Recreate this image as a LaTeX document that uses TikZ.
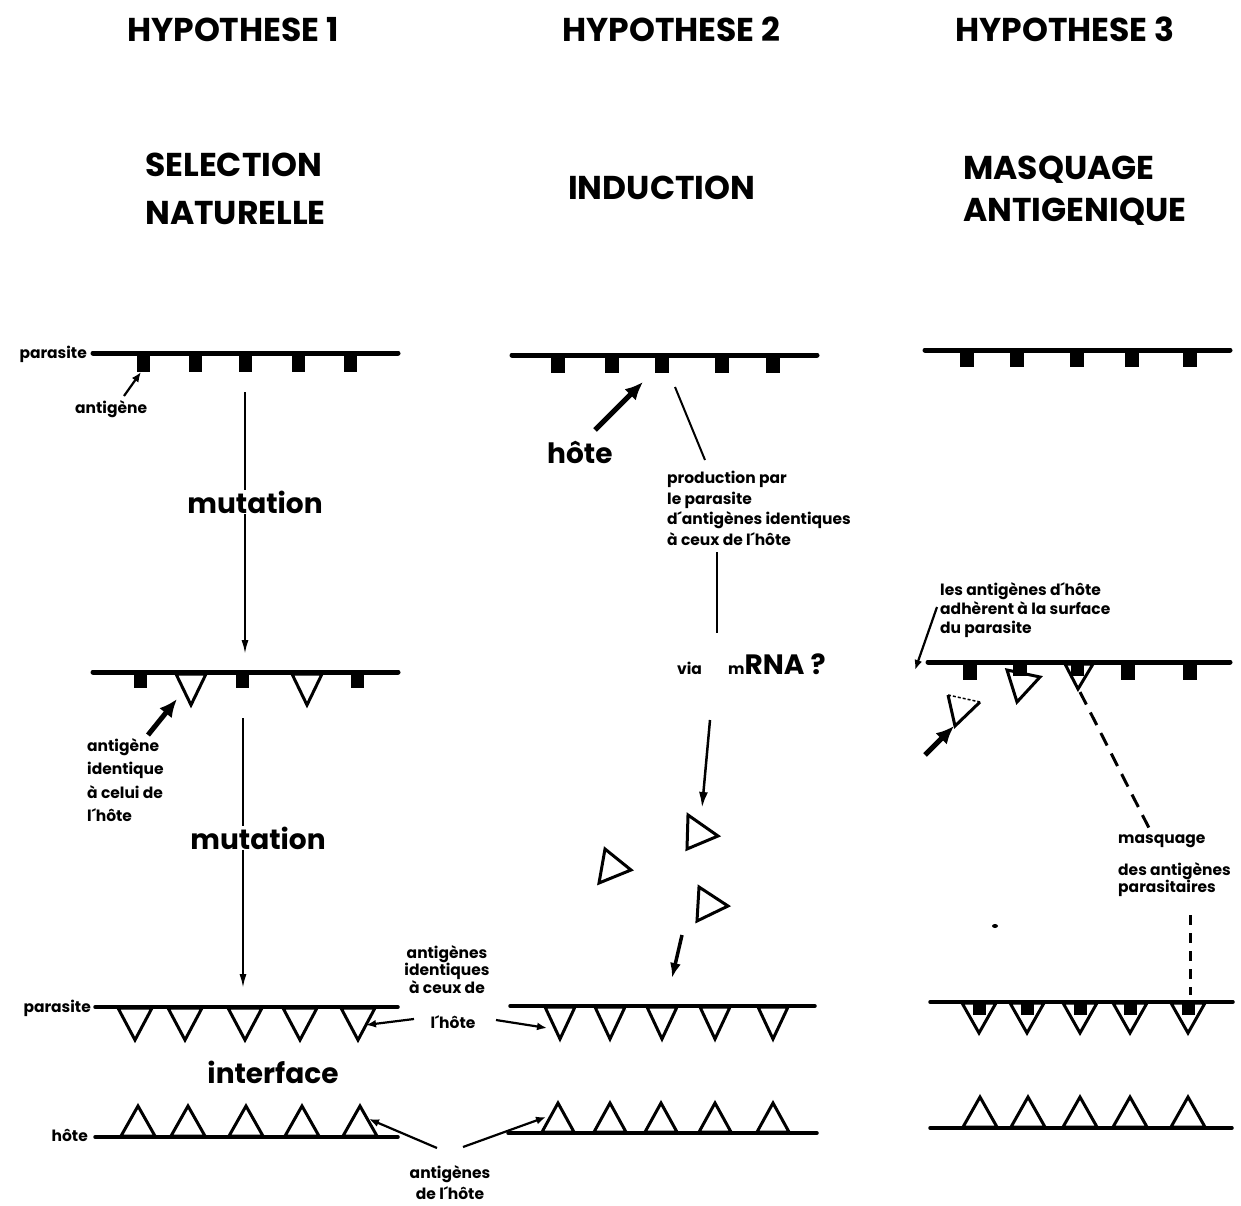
\documentclass[tikz,border=0pt]{standalone}
\usepackage{fontspec}
\setmainfont{Poppins}
\usetikzlibrary{arrows.meta}
\newcommand{\headfont}{\fontsize{33}{36}\selectfont\bfseries}
\newcommand{\bigfont}{\fontsize{28}{32}\selectfont\bfseries}
\newcommand{\smallfont}{\fontsize{15.5}{19}\selectfont\bfseries}
\begin{document}
\begin{tikzpicture}[x=1pt,y=-1pt,
  memb/.style={line width=5pt,line cap=round},
  thinmemb/.style={line width=3.5pt,line cap=round},
  tri/.style={draw,line width=3pt,fill=white,line join=miter},
  head/.style={font=\headfont,anchor=base west,inner sep=0},
  big/.style={font=\bigfont,inner sep=1pt},
  lab/.style={font=\smallfont,inner sep=0,anchor=base west,align=left},
  ptr/.style={line width=2.2pt,-{Latex[length=10pt,width=8pt]}},
  midptr/.style={line width=3.5pt,-{Latex[length=15pt,width=11pt]}},
  bigptr/.style={line width=5pt,-{Latex[length=18pt,width=16pt]}},
  vline/.style={line width=2pt,-{Latex[length=14pt,width=7pt]}},
  dashline/.style={line width=3pt,dash pattern=on 14pt off 9pt}]
\useasboundingbox (0,0) rectangle (1241,1206);
% titres
\node[head] (h1) at (127,42) {HYPOTHESE 1};
\node[head] (h2) at (562,42) {HYPOTHESE 2};
\node[head] (h3) at (955,42) {HYPOTHESE 3};
\node[head] (sel) at (145,177) {SELECTION};
\node[head] (nat) at (145,225) {NATURELLE};
\node[head] (ind) at (568,200) {INDUCTION};
\node[head] (masq) at (963,180) {MASQUAGE};
\node[head] (antig) at (963,222) {ANTIGENIQUE};
% hypothese 1
\foreach \x in {143,195,245,298,350} \fill (\x-6.5,353) rectangle (\x+6.5,372);
\draw[memb] (93,353) -- (398,353);
\node[lab,anchor=base east] (par1) at (87,358) {parasite};
\node[lab] (ag1) at (75,413) {antigène};
\coordinate (ag1t) at (124,396);
\coordinate (sq1) at (141,372);
\draw[ptr] (ag1t) -- (sq1);
\coordinate (c1a) at (245,392);
\coordinate (c1b) at (245,654);
\draw[vline] (c1a) -- (c1b);
\node[big,fill=white] (mut1) at (255,502) {mutation};
\foreach \x in {140,242,357} \fill (\x-6.5,672) rectangle (\x+6.5,688);
\foreach \x in {191,307} \draw[tri] (\x-15,674) -- (\x+15,674) -- (\x,705) -- cycle;
\draw[memb] (93,672) -- (398,672);
\coordinate (b1a) at (148,735);
\coordinate (b1b) at (177,699);
\draw[bigptr] (b1a) -- (b1b);
\node[lab,anchor=north west,font={\fontsize{15.5}{23.5}\selectfont\bfseries}] (ag2) at (87,738) {antigène\\identique\\à celui de\\l´hôte};
\coordinate (c2a) at (243,718);
\coordinate (c2b) at (243,988);
\draw[vline] (c2a) -- (c2b);
\node[big,fill=white] (mut2) at (258,838) {mutation};
\foreach \x in {135,185,245,300,358} \draw[tri] (\x-17,1008) -- (\x+17,1008) -- (\x,1040) -- cycle;
\draw[thinmemb] (95,1007) -- (398,1007);
\node[lab,anchor=base east] (par2) at (91,1012) {parasite};
\node[big] (intf) at (273,1072) {interface};
\foreach \x in {138,188,246,302,360} \draw[tri] (\x-17,1136) -- (\x+17,1136) -- (\x,1106) -- cycle;
\draw[thinmemb] (95,1137) -- (398,1137);
\node[lab,anchor=base east] (hote1) at (88,1141) {hôte};
% etiquettes communes
\node[lab,anchor=north,align=center,font={\fontsize{15.5}{17.5}\selectfont\bfseries}] (idt) at (447,945) {antigènes\\identiques\\à ceux de};
\node[lab,anchor=base] (lh) at (453,1028) {l´hôte};
\coordinate (lhl) at (414,1019);
\coordinate (t1) at (366,1025);
\coordinate (lhr) at (496,1020);
\coordinate (t2) at (547,1028);
\draw[ptr] (lhl) -- (t1);
\draw[ptr] (lhr) -- (t2);
\node[lab,anchor=north,align=center,font={\fontsize{15.5}{21}\selectfont\bfseries}] (ahd) at (450,1165) {antigènes\\de l´hôte};
\coordinate (ahl) at (437,1148);
\coordinate (t3) at (369,1119);
\coordinate (ahr) at (463,1147);
\coordinate (t4) at (546,1117);
\draw[ptr] (ahl) -- (t3);
\draw[ptr] (ahr) -- (t4);
% hypothese 2
\foreach \x in {558,612,662,722,773} \fill (\x-7,355) rectangle (\x+7,373);
\draw[memb] (512,355) -- (817,355);
\coordinate (b2a) at (595,430);
\coordinate (b2b) at (643,382);
\draw[bigptr] (b2a) -- (b2b);
\node[big,anchor=base west,inner sep=0] (hote2) at (547,463) {hôte};
\coordinate (pa) at (675,387);
\coordinate (pb) at (705,460);
\draw[line width=2pt] (pa) -- (pb);
\node[lab,anchor=north west,font={\fontsize{15.5}{20.5}\selectfont\bfseries}] (prod) at (667,471) {production par\\le parasite\\d´antigènes identiques\\à ceux de l´hôte};
\coordinate (va) at (717,552);
\coordinate (vb) at (717,633);
\draw[line width=2pt] (va) -- (vb);
\node[lab] (via) at (677,674) {via};
\node[anchor=base west,inner sep=0] (rna) at (728,674) {{\smallfont m}{\bigfont RNA ?}};
\coordinate (ra) at (710,720);
\coordinate (rb) at (702,808);
\draw[line width=2.5pt,-{Latex[length=16pt,width=9pt]}] (ra) -- (rb);
\draw[tri] (688,815) -- (718,836) -- (687,849) -- cycle;
\draw[tri] (605,849) -- (631,870) -- (599,883) -- cycle;
\draw[tri] (699,887) -- (728,906) -- (697,921) -- cycle;
\coordinate (da) at (682,935);
\coordinate (db) at (672,978);
\draw[midptr] (da) -- (db);
\foreach \x in {560,610,662,715,773} \draw[tri] (\x-15,1007) -- (\x+15,1007) -- (\x,1039) -- cycle;
\draw[thinmemb] (510,1006) -- (815,1006);
\foreach \x in {558,610,661,715,773} \draw[tri] (\x-16,1132) -- (\x+16,1132) -- (\x,1103) -- cycle;
\draw[thinmemb] (508,1133) -- (817,1133);
% hypothese 3
\foreach \x in {967,1017,1077,1132,1190} \fill (\x-7,350) rectangle (\x+7,367);
\draw[memb] (925,350) -- (1230,350);
\node[lab,anchor=north west] (adh) at (940,582) {les antigènes d´hôte\\adhèrent à la surface\\du parasite};
\coordinate (adha) at (937,607);
\coordinate (adhb) at (915,670);
\draw[ptr] (adha) -- (adhb);
\foreach \x in {970,1128,1190} \fill (\x-7,662) rectangle (\x+7,680);
\draw[tri] (1065,664) -- (1093,664) -- (1078,689) -- cycle;
\fill (1071,662) rectangle (1084,676);
\draw[tri] (1007,670) -- (1040,677) -- (1017,702) -- cycle;
\fill (1013,662) rectangle (1027,676);
\draw[line width=3pt,line join=miter] (948,695) -- (955,726) -- (980,702);
\draw[line width=1.5pt,dash pattern=on 3pt off 2pt] (948,695) -- (980,702);
\draw[memb] (928,662) -- (1230,662);
\coordinate (b3a) at (925,755);
\coordinate (b3b) at (954,726);
\draw[bigptr] (b3a) -- (b3b);
\coordinate (ma) at (1080,692);
\coordinate (mb) at (1150,830);
\draw[dashline] (ma) -- (mb);
\node[lab,anchor=north west] (msq) at (1118,835) {masquage};
\node[lab,anchor=north west,font={\fontsize{15.5}{17}\selectfont\bfseries}] (dap) at (1118,862) {des antigènes\\parasitaires};
\coordinate (mc) at (1190,915);
\coordinate (md) at (1190,995);
\draw[line width=3pt,dash pattern=on 10pt off 8pt] (mc) -- (md);
\fill (995,926) ellipse (3 and 2);
\foreach \x in {979,1027,1080,1130,1188} {
  \draw[tri] (\x-17,1003) -- (\x+17,1003) -- (\x,1033) -- cycle;
  \fill (\x-6.5,1002) rectangle (\x+6.5,1015);
}
\draw[thinmemb] (930,1002) -- (1233,1002);
\foreach \x in {980,1028,1080,1130,1188} \draw[tri] (\x-17,1127) -- (\x+17,1127) -- (\x,1097) -- cycle;
\draw[thinmemb] (930,1128) -- (1232,1128);
\end{tikzpicture}
\end{document}
